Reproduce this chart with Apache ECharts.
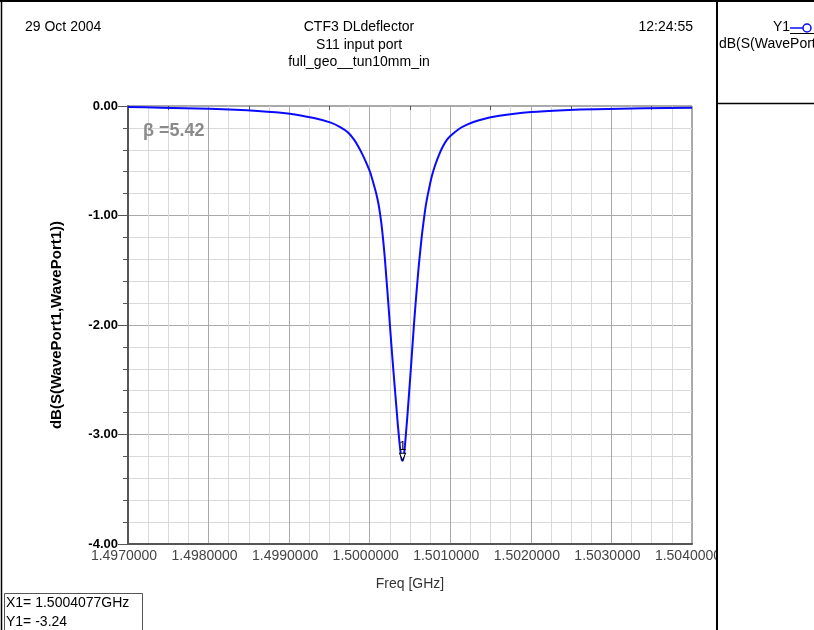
<!DOCTYPE html>
<html>
<head>
<meta charset="utf-8">
<script src="https://cdn.jsdelivr.net/npm/echarts@6/dist/echarts.min.js"></script>
<style>
  html, body { margin: 0; padding: 0; background: #fff; }
  #chart { width: 814px; height: 630px; }
</style>
</head>
<body>
<div id="chart"></div>
<script>
// S11 sweep of the input port: frequency in GHz, return loss in dB
const freqGHz = [
  1.4970000, 1.4974077, 1.4980077, 1.4986077, 1.4990077, 1.4993077, 1.4995077, 1.4996277,
  1.4997277, 1.4998077, 1.4998577, 1.4999077, 1.4999577, 1.5000077, 1.5000477, 1.5000777,
  1.5001077, 1.5001277, 1.5001477, 1.5001677, 1.5001877, 1.5002077, 1.5002277, 1.5002477,
  1.5002677, 1.5002877, 1.5003077, 1.5003177, 1.5003277, 1.5003377, 1.5003477, 1.5003577,
  1.5003677, 1.5003777, 1.5003877, 1.5003977, 1.5004077,
  1.5004177, 1.5004277, 1.5004377, 1.5004477, 1.5004577, 1.5004677, 1.5004777, 1.5004877,
  1.5004977, 1.5005077, 1.5005277, 1.5005477, 1.5005677, 1.5005877, 1.5006077, 1.5006277,
  1.5006477, 1.5006677, 1.5006877, 1.5007077, 1.5007377, 1.5007677, 1.5008077, 1.5008577,
  1.5009077, 1.5009577, 1.5010077, 1.5011077, 1.5012077, 1.5013577, 1.5016077, 1.5020077,
  1.5024077, 1.5028077, 1.5034077, 1.5040000
];
const s11dB = [
  -0.010, -0.015, -0.025, -0.045, -0.070, -0.110, -0.150, -0.190,
  -0.240, -0.310, -0.370, -0.440, -0.520, -0.610, -0.710, -0.790,
  -0.890, -0.980, -1.090, -1.230, -1.390, -1.580, -1.770, -1.970,
  -2.170, -2.360, -2.540, -2.630, -2.720, -2.810, -2.900, -2.980,
  -3.060, -3.130, -3.190, -3.230, -3.240,
  -3.220, -3.170, -3.100, -3.010, -2.920, -2.830, -2.730, -2.630,
  -2.530, -2.430, -2.220, -2.010, -1.820, -1.640, -1.470, -1.320,
  -1.180, -1.060, -0.950, -0.860, -0.750, -0.650, -0.550, -0.450,
  -0.370, -0.310, -0.270, -0.210, -0.170, -0.130, -0.090, -0.055,
  -0.038, -0.029, -0.021, -0.015
];

// marker 1 at the resonance
const markerFreq = 1.5004077;
const markerDb = -3.24;

// axis settings
const xMin = 1.497, xMax = 1.504, xStep = 0.001;
const yMin = -4, yMax = 0, yStep = 1;
const betaText = 'β =5.42';

const FONT = 'Arial, "Liberation Sans", sans-serif';
const points = freqGHz.map((f, i) => [f, s11dB[i]]);

const chart = echarts.init(document.getElementById('chart'), null, { renderer: 'canvas' });

function txt(x, y, text, align, size, extra) {
  return {
    type: 'text', z: 101,
    style: Object.assign({
      x: x, y: y, text: text, textAlign: align, textVerticalAlign: 'middle',
      font: size + 'px ' + FONT, fill: '#000'
    }, extra || {})
  };
}

chart.setOption({
  animation: false,
  backgroundColor: '#ffffff',
  grid: {
    left: 128, right: 122, top: 106, bottom: 86,
    show: true, borderColor: '#555', borderWidth: 1, backgroundColor: 'transparent'
  },
  xAxis: [{
    type: 'value',
    min: xMin, max: xMax, interval: xStep,
    position: 'bottom',
    name: 'Freq [GHz]',
    nameLocation: 'middle',
    nameGap: 33,
    nameTextStyle: { fontFamily: FONT, fontSize: 14, color: '#333' },
    axisLine: { show: true, onZero: false, lineStyle: { color: '#555', width: 2 } },
    axisTick: { show: false },
    axisLabel: {
      fontFamily: FONT, fontSize: 14, color: '#444', margin: 5,
      padding: [0, 8, 0, 0],
      showMaxLabel: true, showMinLabel: true,
      formatter: v => v.toFixed(7)
    },
    splitLine: { show: true, lineStyle: { color: '#a9a9a9', width: 1 } },
    minorTick: { show: false, splitNumber: 4 },
    minorSplitLine: { show: true, lineStyle: { color: '#d9d9d9', width: 1 } }
  }, {
    // short ticks between the labelled frequencies
    type: 'category',
    position: 'bottom',
    data: ['', '', '', '', '', '', ''],
    boundaryGap: true,
    axisLine: { show: false },
    axisTick: { show: true, alignWithLabel: true, length: 4, lineStyle: { color: '#555' } },
    axisLabel: { show: false },
    splitLine: { show: false }
  }],
  yAxis: {
    type: 'value',
    min: yMin, max: yMax, interval: yStep,
    name: 'dB(S(WavePort1,WavePort1))',
    nameLocation: 'middle',
    nameGap: 64,
    nameRotate: 90,
    nameTextStyle: { fontFamily: FONT, fontSize: 15, fontWeight: 'bold', color: '#000' },
    axisLine: { show: true, onZero: false, lineStyle: { color: '#555', width: 2 } },
    axisTick: { show: true, length: 10, lineStyle: { color: '#555' } },
    minorTick: { show: true, splitNumber: 5, length: 5, lineStyle: { color: '#555' } },
    axisLabel: {
      fontFamily: FONT, fontSize: 13, fontWeight: 'bold', color: '#000', margin: 10,
      padding: [0, 0, 4, 0],
      formatter: v => v.toFixed(2)
    },
    splitLine: { show: true, lineStyle: { color: '#a9a9a9', width: 1 } },
    minorSplitLine: { show: true, lineStyle: { color: '#d9d9d9', width: 1 } }
  },
  series: [{
    type: 'line',
    xAxisIndex: 0,
    data: points,
    showSymbol: false,
    smooth: 0.2,
    lineStyle: { color: '#0a0aff', width: 2 },
    markPoint: {
      symbol: 'triangle',
      symbolRotate: 180,
      symbolSize: [6, 7],
      symbolOffset: [0, -4],
      itemStyle: { color: '#ffffff', borderColor: '#000', borderWidth: 1 },
      label: {
        show: true, position: 'top', distance: 0,
        fontFamily: FONT, fontSize: 13, color: '#000',
        formatter: '1'
      },
      data: [{ coord: [markerFreq, markerDb] }]
    }
  }],
  graphic: [
    // outer frame
    { type: 'line', z: 100, shape: { x1: 0, y1: 1, x2: 814, y2: 1 }, style: { stroke: '#000', lineWidth: 2 } },
    { type: 'line', z: 100, shape: { x1: 1.5, y1: 0, x2: 1.5, y2: 630 }, style: { stroke: '#000', lineWidth: 1.5 } },
    // right-hand legend panel
    { type: 'rect', z: 99, shape: { x: 718, y: 2, width: 96, height: 628 }, style: { fill: '#fff' } },
    { type: 'line', z: 100, shape: { x1: 717, y1: 0, x2: 717, y2: 630 }, style: { stroke: '#000', lineWidth: 2 } },
    { type: 'line', z: 100, shape: { x1: 717, y1: 103.5, x2: 814, y2: 103.5 }, style: { stroke: '#000', lineWidth: 1.5 } },
    txt(790, 27, 'Y1', 'right', 14),
    { type: 'line', z: 101, shape: { x1: 790, y1: 28, x2: 803, y2: 28 }, style: { stroke: '#0a0aff', lineWidth: 1.5 } },
    { type: 'circle', z: 101, shape: { cx: 807, cy: 28, r: 4 }, style: { fill: '#fff', stroke: '#0a0aff', lineWidth: 1.5 } },
    { type: 'line', z: 101, shape: { x1: 790, y1: 33.5, x2: 814, y2: 33.5 }, style: { stroke: '#000', lineWidth: 1 } },
    txt(719, 44, 'dB(S(WavePort1,WavePort1))', 'left', 14),
    // header
    txt(25, 27, '29 Oct 2004', 'left', 14),
    txt(359, 27, 'CTF3 DLdeflector', 'center', 14),
    txt(359, 45, 'S11 input port', 'center', 14),
    txt(359, 62, 'full_geo__tun10mm_in', 'center', 14),
    txt(693, 27, '12:24:55', 'right', 14),
    // annotation inside the plot
    txt(143, 131, betaText, 'left', 18, { font: 'bold 18px ' + FONT, fill: '#8a8a8a' }),
    // marker readout box
    { type: 'rect', z: 101, shape: { x: 4.5, y: 593.5, width: 138, height: 40 }, style: { fill: '#fff', stroke: '#555', lineWidth: 1 } },
    txt(6, 603, 'X1= ' + markerFreq.toFixed(7) + 'GHz', 'left', 14),
    txt(6, 622, 'Y1= ' + markerDb.toFixed(2), 'left', 14)
  ]
});
</script>
</body>
</html>
